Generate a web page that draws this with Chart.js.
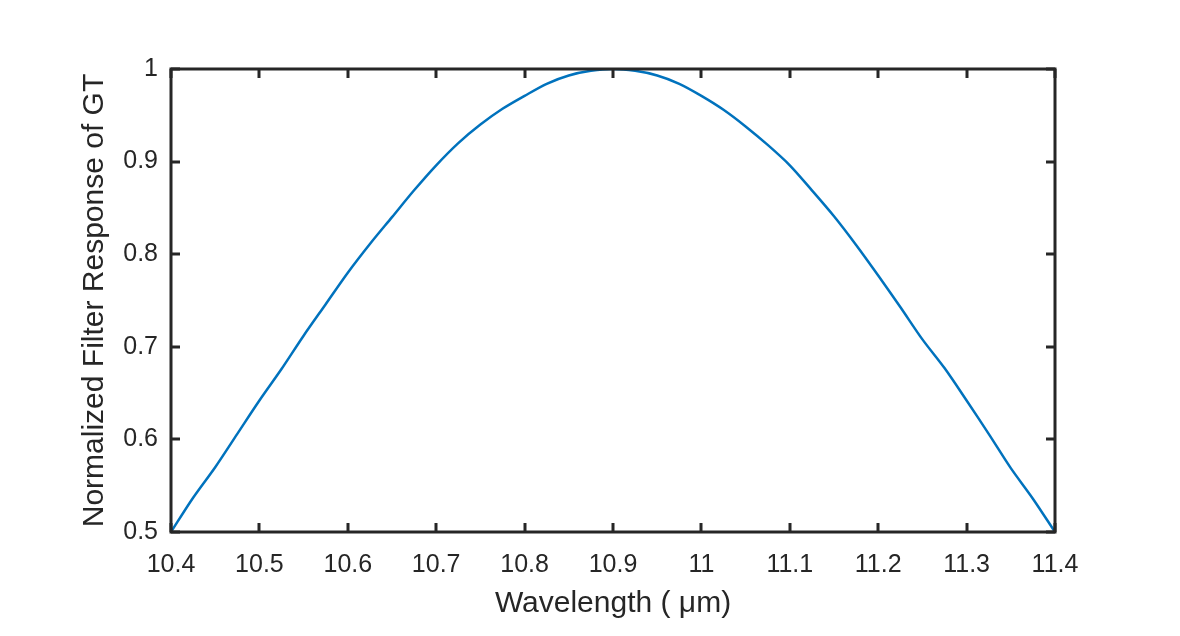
<!DOCTYPE html>
<html>
<head>
<meta charset="utf-8">
<script src="https://cdn.jsdelivr.net/npm/chart.js@4/dist/chart.umd.min.js"></script>
<style>
  html, body { margin: 0; padding: 0; background: #fff; }
  canvas { display: block; }
</style>
</head>
<body>
<canvas id="filterChart" width="1180" height="636"></canvas>
<script>
// wavelength in um
const wavelength = [
  10.4, 10.425, 10.45, 10.475, 10.5, 10.525, 10.55, 10.575, 10.6, 10.625,
  10.65, 10.675, 10.7, 10.725, 10.75, 10.775, 10.8, 10.825, 10.85, 10.875,
  10.9, 10.925, 10.95, 10.975, 11.0, 11.025, 11.05, 11.075, 11.1, 11.125,
  11.15, 11.175, 11.2, 11.225, 11.25, 11.275, 11.3, 11.325, 11.35, 11.375, 11.4
];
const response = [
  0.500, 0.537, 0.570, 0.606, 0.642, 0.676, 0.712, 0.746, 0.780, 0.811,
  0.840, 0.869, 0.896, 0.920, 0.940, 0.957, 0.971, 0.984, 0.993, 0.998,
  1.000, 0.998, 0.993, 0.984, 0.971, 0.956, 0.938, 0.918, 0.896, 0.869,
  0.841, 0.810, 0.777, 0.743, 0.708, 0.677, 0.642, 0.606, 0.569, 0.536, 0.500
];
const xTicks = [10.4, 10.5, 10.6, 10.7, 10.8, 10.9, 11.0, 11.1, 11.2, 11.3, 11.4];
const xTickLabels = ['10.4', '10.5', '10.6', '10.7', '10.8', '10.9', '11', '11.1', '11.2', '11.3', '11.4'];
const yTicks = [0.5, 0.6, 0.7, 0.8, 0.9, 1.0];
const yTickLabels = ['0.5', '0.6', '0.7', '0.8', '0.9', '1'];

const FONT = '"Liberation Sans", Arial, Helvetica, sans-serif';
const AXIS_COLOR = '#262626';

// matlab style box with inward ticks on all four sides
const boxPlugin = {
  id: 'matlabBox',
  afterDraw(chart) {
    const { ctx, chartArea: a, scales } = chart;
    const len = 9;
    ctx.save();
    ctx.strokeStyle = AXIS_COLOR;
    ctx.lineWidth = 3;
    ctx.beginPath();
    scales.x.ticks.forEach(t => {
      const px = Math.round(scales.x.getPixelForValue(t.value));
      ctx.moveTo(px, a.bottom); ctx.lineTo(px, a.bottom - len);
      ctx.moveTo(px, a.top); ctx.lineTo(px, a.top + len);
    });
    scales.y.ticks.forEach(t => {
      const py = Math.round(scales.y.getPixelForValue(t.value));
      ctx.moveTo(a.left, py); ctx.lineTo(a.left + len, py);
      ctx.moveTo(a.right, py); ctx.lineTo(a.right - len, py);
    });
    ctx.stroke();
    ctx.strokeRect(a.left, a.top, a.right - a.left, a.bottom - a.top);
    ctx.restore();
  }
};

const ctx = document.getElementById('filterChart').getContext('2d');
new Chart(ctx, {
  type: 'line',
  data: {
    datasets: [{
      data: wavelength.map((w, i) => ({ x: w, y: response[i] })),
      borderColor: '#0072BD',
      borderWidth: 2.5,
      pointRadius: 0,
      fill: false,
      tension: 0.3
    }]
  },
  options: {
    responsive: false,
    animation: false,
    events: [],
    layout: { padding: { left: 77, top: 69, right: 125, bottom: 0 } },
    plugins: { legend: { display: false }, tooltip: { enabled: false } },
    scales: {
      x: {
        type: 'linear',
        min: 10.4,
        max: 11.4,
        afterFit: s => { s.height = 104; },
        afterBuildTicks: s => { s.ticks = xTicks.map(v => ({ value: v })); },
        grid: { display: false, drawTicks: false },
        border: { display: false },
        ticks: {
          padding: 18,
          maxRotation: 0,
          autoSkip: false,
          color: AXIS_COLOR,
          font: { family: FONT, size: 25 },
          callback: (v, i) => xTickLabels[i]
        },
        title: {
          display: true,
          text: 'Wavelength ( \u03bcm)',
          color: AXIS_COLOR,
          font: { family: FONT, size: 30 },
          padding: { top: 0, bottom: 14 }
        }
      },
      y: {
        type: 'linear',
        min: 0.5,
        max: 1,
        afterFit: s => { s.width = 94; },
        afterBuildTicks: s => { s.ticks = yTicks.map(v => ({ value: v })); },
        grid: { display: false, drawTicks: false },
        border: { display: false },
        ticks: {
          padding: 13,
          autoSkip: false,
          color: AXIS_COLOR,
          font: { family: FONT, size: 25 },
          callback: (v, i) => yTickLabels[i]
        },
        title: {
          display: true,
          text: 'Normalized Filter Response of GT',
          color: AXIS_COLOR,
          font: { family: FONT, size: 30 },
          padding: 0
        }
      }
    }
  },
  plugins: [boxPlugin]
});
</script>
</body>
</html>
